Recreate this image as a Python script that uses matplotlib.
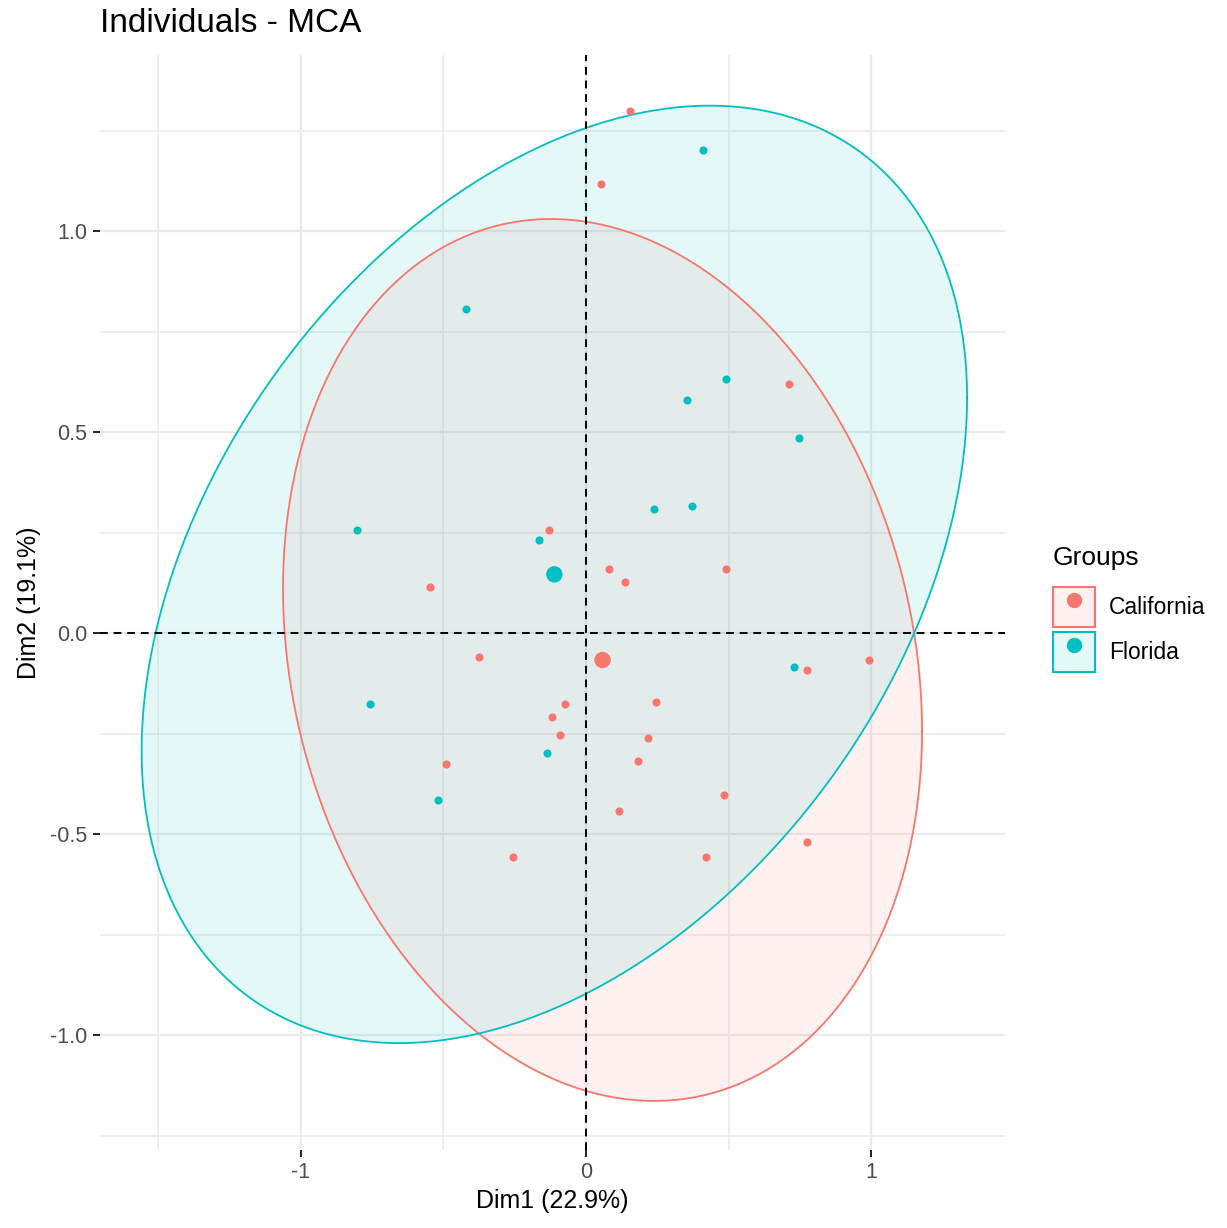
import numpy as np
import matplotlib
matplotlib.use("Agg")
import matplotlib.pyplot as plt
from matplotlib.patches import Patch
from matplotlib.lines import Line2D
from matplotlib.legend_handler import HandlerTuple

plt.rcParams['font.family'] = ['Liberation Sans', 'DejaVu Sans']

# individuals (Dim1, Dim2)
cal_x = [0.154, 0.053, 0.712, -0.130, 0.081, 0.137, 0.491, -0.547, -0.375, 0.775, 0.993, -0.074,
         -0.119, -0.091, 0.246, 0.218, 0.182, -0.491, 0.116, 0.484, -0.256, 0.421, 0.775]
cal_y = [1.298, 1.117, 0.619, 0.256, 0.159, 0.127, 0.159, 0.114, -0.060, -0.092, -0.067, -0.177,
         -0.209, -0.254, -0.172, -0.261, -0.318, -0.326, -0.443, -0.403, -0.557, -0.557, -0.520]
flo_x = [0.411, -0.421, 0.491, 0.354, 0.747, 0.239, 0.372, -0.804, -0.165, 0.730, -0.758, -0.137, -0.519]
flo_y = [1.201, 0.806, 0.632, 0.580, 0.485, 0.308, 0.316, 0.256, 0.231, -0.085, -0.177, -0.299, -0.415]

groups = ["California", "Florida"]
colors = ["#F8766D", "#00BFC4"]
# group means
mean_x = [0.058, -0.111]
mean_y = [-0.067, 0.146]
# 95% ellipses: half-width, half-height, cross term
ell_hx = [1.121, 1.448]
ell_hy = [1.097, 1.166]
ell_xy = [-0.199, 0.636]

fig = plt.figure(figsize=(12.27, 12.28), dpi=100)
ax = fig.add_axes([100 / 1227, 1 - 1150 / 1228, 905 / 1227, 1095 / 1228])

t = np.linspace(0, 2 * np.pi, 400)
for i in range(2):
    M = np.array([[ell_hx[i] ** 2, ell_xy[i]], [ell_xy[i], ell_hy[i] ** 2]])
    L = np.linalg.cholesky(M)
    pts = L @ np.vstack([np.cos(t), np.sin(t)])
    ex = mean_x[i] + pts[0]
    ey = mean_y[i] + pts[1]
    ax.fill(ex, ey, facecolor=colors[i], alpha=0.1, edgecolor="none", zorder=2)
    ax.plot(ex, ey, color=colors[i], lw=1.3, zorder=3)

ax.scatter(cal_x, cal_y, s=34, color=colors[0], zorder=4, linewidths=0)
ax.scatter(flo_x, flo_y, s=34, color=colors[1], zorder=4, linewidths=0)
ax.scatter(mean_x, mean_y, s=140, color=colors, zorder=5, linewidths=0)

ax.axhline(0, color="black", ls=(0, (4, 3)), lw=1.4, zorder=3.5)
ax.axvline(0, color="black", ls=(0, (4, 3)), lw=1.4, zorder=3.5)

ax.set_xlim(-1.705, 1.470)
ax.set_ylim(-1.286, 1.438)
ax.set_xticks([-1, 0, 1])
ax.set_xticklabels(["-1", "0", "1"])
ax.set_yticks([-1.0, -0.5, 0.0, 0.5, 1.0])
ax.set_yticklabels(["-1.0", "-0.5", "0.0", "0.5", "1.0"])
ax.set_xticks([-1.5, -0.5, 0.5], minor=True)
ax.set_yticks([-1.25, -0.75, -0.25, 0.25, 0.75, 1.25], minor=True)
ax.grid(True, which="major", color="#EBEBEB", lw=1.6, zorder=0)
ax.grid(True, which="minor", color="#EBEBEB", lw=1.2, zorder=0)
ax.set_axisbelow(True)
for s in ax.spines.values():
    s.set_visible(False)
ax.tick_params(which="major", length=5, width=1.2, color="black", labelcolor="#4D4D4D",
               labelsize=15.5, pad=4)
ax.tick_params(which="minor", length=0)

ax.set_xlabel("Dim1 (22.9%)", fontsize=18, labelpad=4)
ax.set_ylabel("Dim2 (19.1%)", fontsize=18, labelpad=7)
fig.text(100 / 1227, 1 - 23 / 1228, "Individuals - MCA", fontsize=24, va="center", ha="left")

handles = []
for c in colors:
    box = Patch(facecolor=matplotlib.colors.to_rgba(c, 0.1), edgecolor=c, lw=1.5)
    dot = Line2D([], [], marker="o", ls="", color=c, markersize=10)
    handles.append((box, dot))
leg = fig.legend(handles, groups, title="Groups", loc="upper left",
                 bbox_to_anchor=(1046 / 1227, 1 - 539 / 1228), frameon=False,
                 fontsize=16.5, title_fontsize=19, handler_map={tuple: HandlerTuple(ndivide=1, pad=0)},
                 handlelength=1.85, handleheight=2.35, handletextpad=0.6, labelspacing=0.2,
                 alignment="left", borderaxespad=0, borderpad=0.3)
leg._legend_box.sep = 12

fig.savefig("out.png", dpi=100)
